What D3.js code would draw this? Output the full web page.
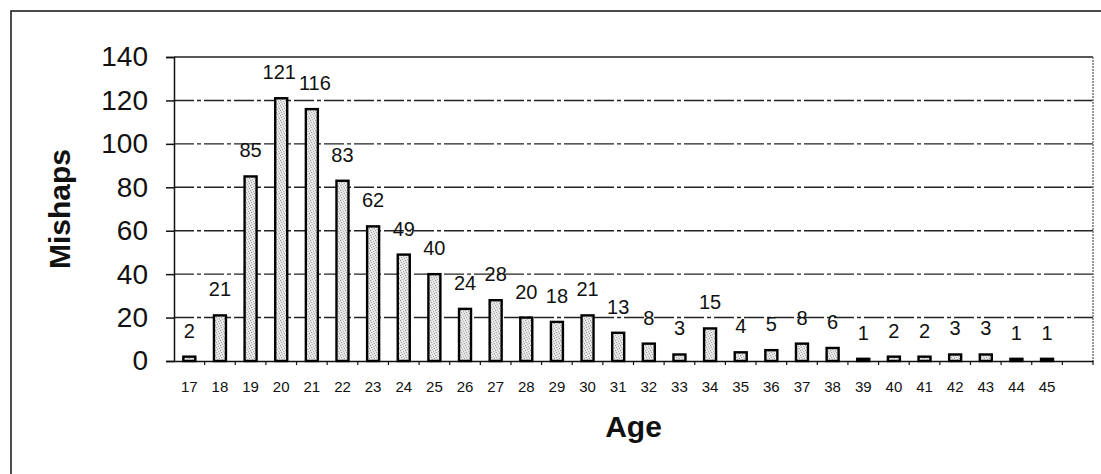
<!DOCTYPE html>
<html>
<head>
<meta charset="utf-8">
<script src="https://cdn.jsdelivr.net/npm/d3@7"></script>
<style>
  html, body { margin: 0; padding: 0; background: #fff; }
  svg { display: block; font-family: "Liberation Sans", Arial, sans-serif; }
</style>
</head>
<body>
<svg id="chart" width="1101" height="474"></svg>
<script>
const ages = [17,18,19,20,21,22,23,24,25,26,27,28,29,30,31,32,33,34,35,36,37,38,39,40,41,42,43,44,45];
const mishaps = [2,21,85,121,116,83,62,49,40,24,28,20,18,21,13,8,3,15,4,5,8,6,1,2,2,3,3,1,1];
const yTicks = [0,20,40,60,80,100,120,140];
const xTitle = "Age";
const yTitle = "Mishaps";

(function () {
const svg = d3.select("#chart");
const pLeft = 174, pRight = 1093, pTop = 57, pBottom = 361;

// one extra empty slot at the end, as in the original
const domain = ages.map(String).concat(["_"]);
const x = d3.scaleBand().domain(domain).range([pLeft, pRight]).paddingInner(0).paddingOuter(0);
const y = d3.scaleLinear().domain([0, 140]).range([pBottom, pTop]);

// bar fill pattern (speckled light gray)
const defs = svg.append("defs");
const pat = defs.append("pattern").attr("id", "speck").attr("width", 5).attr("height", 5)
  .attr("patternUnits", "userSpaceOnUse");
pat.append("rect").attr("width", 5).attr("height", 5).attr("fill", "#e2e2e2");
const dots = [[0,0,"#9a9a9a"],[3,1,"#b4b4b4"],[1,2,"#a8a8a8"],[4,3,"#a0a0a0"],[2,4,"#bcbcbc"],[4,0,"#f4f4f4"],[0,3,"#f6f6f6"],[2,1,"#f2f2f2"]];
dots.forEach(([dx, dy, c]) => pat.append("rect").attr("x", dx).attr("y", dy)
  .attr("width", 1).attr("height", 1).attr("fill", c));

// outer frame
svg.append("path").attr("d", "M11,480 L11,11 L1110,11")
  .attr("fill", "none").attr("stroke", "#111").attr("stroke-width", 1.5);

// gridlines
svg.append("g").selectAll("line").data(yTicks.filter(d => d > 0 && d < 140)).join("line")
  .attr("x1", pLeft).attr("x2", pRight)
  .attr("y1", d => y(d)).attr("y2", d => y(d))
  .attr("stroke", "#222").attr("stroke-width", 1.4)
  .attr("stroke-dasharray", "20,3,4,3");

// plot top and right border
svg.append("line").attr("x1", pLeft).attr("x2", pRight).attr("y1", y(140)).attr("y2", y(140))
  .attr("stroke", "#222").attr("stroke-width", 1.5);
svg.append("line").attr("x1", pRight).attr("x2", pRight).attr("y1", y(140)).attr("y2", y(0))
  .attr("stroke", "#777").attr("stroke-width", 1.5).attr("stroke-dasharray", "2,1");

// y axis
const yAxis = d3.axisLeft(y).tickValues(yTicks).tickSize(8).tickPadding(18);
const gy = svg.append("g").attr("transform", `translate(${pLeft},0)`).call(yAxis);
gy.select(".domain").attr("stroke", "#111").attr("stroke-width", 1.5);
gy.selectAll(".tick line").attr("stroke", "#111").attr("stroke-width", 1.5);
gy.selectAll(".tick text").attr("font-size", 28).attr("fill", "#111")
  .attr("font-family", "Liberation Sans, Arial, sans-serif");

// x axis
const xAxis = d3.axisBottom(x).tickSize(0).tickPadding(20).tickFormat(d => d === "_" ? "" : d);
const gx = svg.append("g").attr("transform", `translate(0,${pBottom})`).call(xAxis);
gx.select(".domain").attr("stroke", "#111").attr("stroke-width", 1.5);
gx.selectAll(".tick text").attr("font-size", 15).attr("fill", "#111")
  .attr("font-family", "Liberation Sans, Arial, sans-serif");
// x ticks at band boundaries
svg.append("g").selectAll("line").data(domain).join("line")
  .attr("x1", d => x(d) + x.bandwidth()).attr("x2", d => x(d) + x.bandwidth())
  .attr("y1", pBottom).attr("y2", pBottom + 4)
  .attr("stroke", "#111").attr("stroke-width", 1.2);

// bars
const bw = 12;
svg.append("g").selectAll("rect").data(ages).join("rect")
  .attr("x", (d) => x(String(d)) + x.bandwidth() / 2 - bw / 2)
  .attr("y", (d, i) => y(mishaps[i]))
  .attr("width", bw)
  .attr("height", (d, i) => pBottom - y(mishaps[i]))
  .attr("fill", "url(#speck)")
  .attr("stroke", "#000").attr("stroke-width", 2.4);

// value labels
svg.append("g").selectAll("text").data(ages).join("text")
  .attr("x", (d) => x(String(d)) + x.bandwidth() / 2 + (d === 21 ? 3 : d === 20 ? -2 : 0))
  .attr("y", (d, i) => y(mishaps[i]) - 19)
  .attr("text-anchor", "middle")
  .attr("font-size", 20).attr("fill", "#111")
  .text((d, i) => mishaps[i]);

// axis titles
svg.append("text").attr("x", (pLeft + pRight) / 2).attr("y", 437)
  .attr("text-anchor", "middle").attr("font-size", 30).attr("font-weight", "bold")
  .attr("fill", "#111").text(xTitle);
svg.append("text").attr("transform", `translate(70,${(pTop + pBottom) / 2}) rotate(-90)`)
  .attr("text-anchor", "middle").attr("font-size", 30).attr("font-weight", "bold")
  .attr("fill", "#111").text(yTitle);
})();
</script>
</body>
</html>
